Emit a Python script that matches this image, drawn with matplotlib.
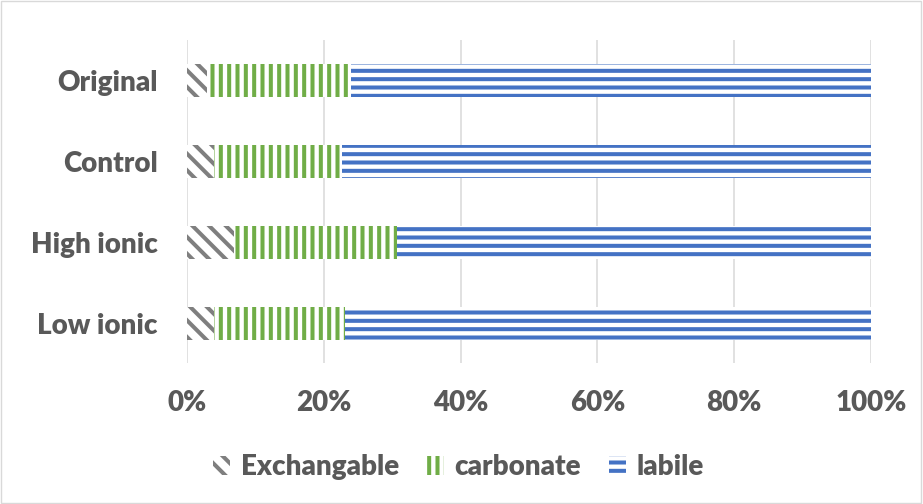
import numpy as np
import matplotlib.pyplot as plt
from matplotlib.patches import Rectangle

# data (percent of total)
samples = ['Original', 'Control', 'High ionic', 'Low ionic']
exchangable = [2.9, 3.9, 6.9, 3.9]
carbonate = [21.1, 18.8, 23.8, 19.2]
labile = [100 - a - b for a, b in zip(exchangable, carbonate)]
xticks = [0, 20, 40, 60, 80, 100]

plt.rcParams['font.family'] = ['Lato', 'DejaVu Sans']
plt.rcParams['hatch.linewidth'] = 2.9

fig = plt.figure(figsize=(9.23, 5.04), dpi=100)
ax = fig.add_axes([0.2026, 0.2788, 0.741, 0.641])

y = np.arange(len(samples))
h = 0.41
exch = np.array(exchangable)
carb = np.array(carbonate)

ax.barh(y, exch, height=h, color='white', edgecolor='#7F7F7F', hatch='\\\\', linewidth=0,
        label='Exchangable')
ax.barh(y, carb, left=exch, height=h, color='white', edgecolor='#70AD47', hatch='||',
        linewidth=0, label='carbonate')
ax.barh(y, labile, left=exch + carb, height=h, color='white', edgecolor='#4472C4', hatch='--',
        linewidth=0, label='labile')

ax.set_xlim(0, 100)
ax.set_ylim(len(samples) - 0.5, -0.5)
ax.set_yticks(y)
ax.set_yticklabels(samples)
ax.set_xticks(xticks)
ax.set_xticklabels([f'{t}%' for t in xticks])
ax.tick_params(length=0, labelsize=20, labelcolor='#595959')
ax.tick_params(axis='y', pad=21)
ax.tick_params(axis='x', pad=19)
for lab in ax.get_xticklabels() + ax.get_yticklabels():
    lab.set_fontweight('heavy')
for s in ax.spines.values():
    s.set_visible(False)
ax.grid(axis='x', color='#D9D9D9', linewidth=1.1)
ax.set_axisbelow(True)

leg = fig.legend(loc='center', bbox_to_anchor=(0.497, 0.073), ncol=3, frameon=False,
                 handlelength=0.6, handleheight=0.7, handletextpad=0.4, columnspacing=1.0,
                 prop={'size': 20, 'weight': 'heavy'})
for t in leg.get_texts():
    t.set_color('#595959')

fig.patches.append(Rectangle((0.001, 0.001), 0.997, 0.997, transform=fig.transFigure,
                             fill=False, edgecolor='#D9D9D9', linewidth=1))

fig.savefig('out.png', dpi=100)
